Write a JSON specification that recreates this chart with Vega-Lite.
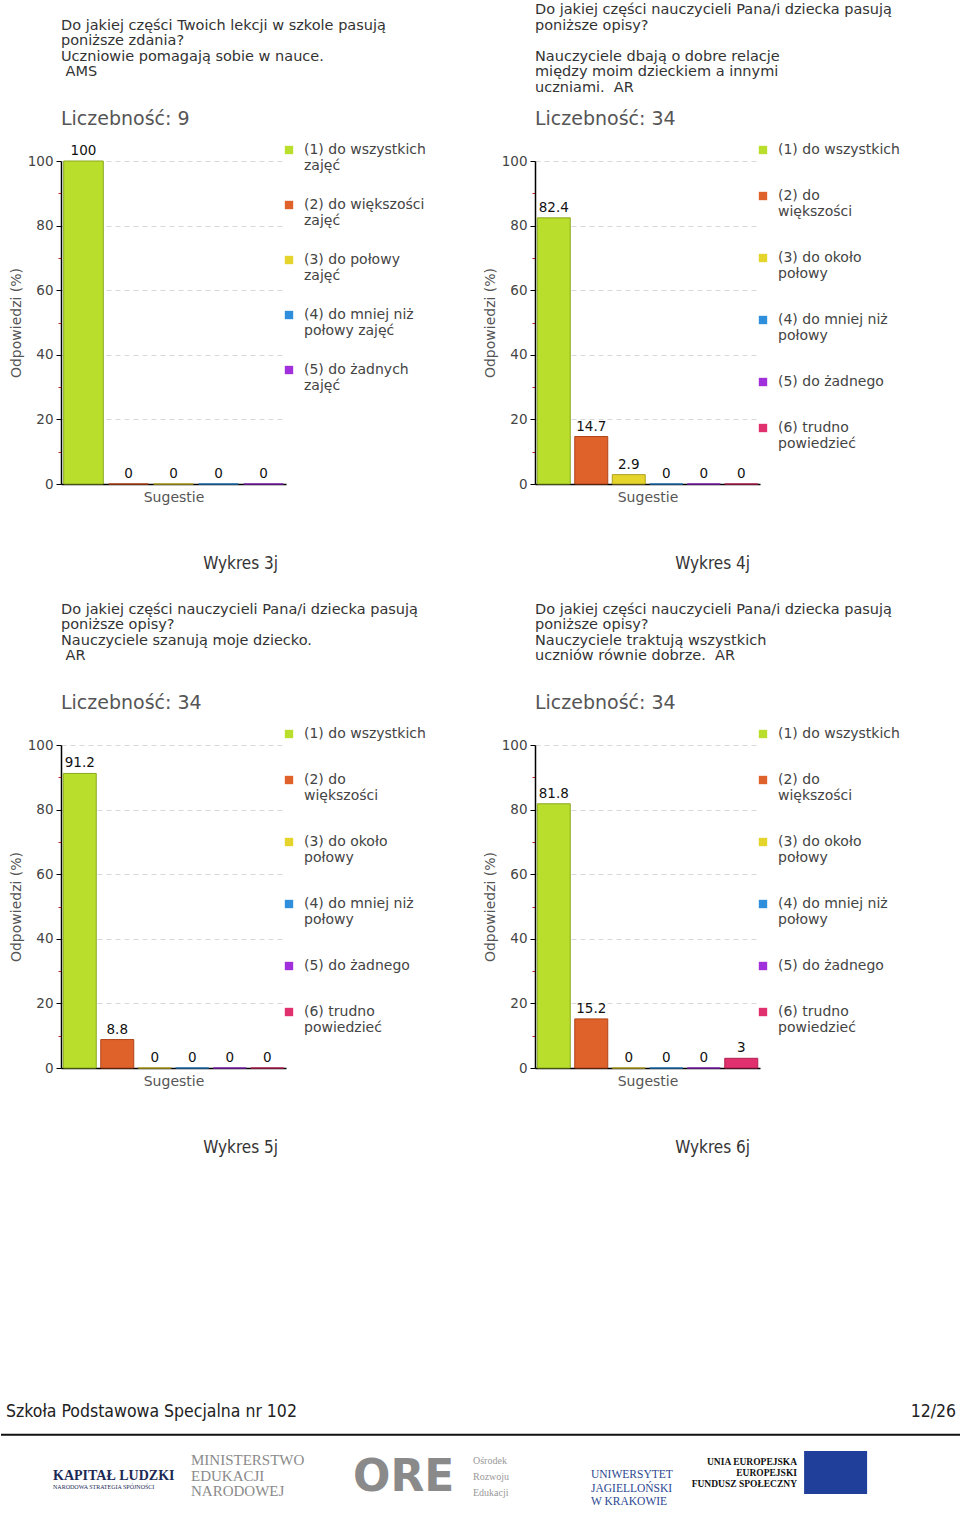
{
  "$schema": "https://vega.github.io/schema/vega-lite/v6.json",
  "padding": {"left": 0, "top": 2, "right": 0, "bottom": 0},
  "background": "white",
  "datasets": {
    "p1": [
      {"n": 1, "k": "(1) do wszystkich\nzajęć", "v": 100},
      {"n": 2, "k": "(2) do większości\nzajęć", "v": 0},
      {"n": 3, "k": "(3) do połowy\nzajęć", "v": 0},
      {"n": 4, "k": "(4) do mniej niż\npołowy zajęć", "v": 0},
      {"n": 5, "k": "(5) do żadnych\nzajęć", "v": 0}
    ],
    "p2": [
      {"n": 1, "k": "(1) do wszystkich", "v": 82.4},
      {"n": 2, "k": "(2) do\nwiększości", "v": 14.7},
      {"n": 3, "k": "(3) do około\npołowy", "v": 2.9},
      {"n": 4, "k": "(4) do mniej niż\npołowy", "v": 0},
      {"n": 5, "k": "(5) do żadnego", "v": 0},
      {"n": 6, "k": "(6) trudno\npowiedzieć", "v": 0}
    ],
    "p3": [
      {"n": 1, "k": "(1) do wszystkich", "v": 91.2},
      {"n": 2, "k": "(2) do\nwiększości", "v": 8.8},
      {"n": 3, "k": "(3) do około\npołowy", "v": 0},
      {"n": 4, "k": "(4) do mniej niż\npołowy", "v": 0},
      {"n": 5, "k": "(5) do żadnego", "v": 0},
      {"n": 6, "k": "(6) trudno\npowiedzieć", "v": 0}
    ],
    "p4": [
      {"n": 1, "k": "(1) do wszystkich", "v": 81.8},
      {"n": 2, "k": "(2) do\nwiększości", "v": 15.2},
      {"n": 3, "k": "(3) do około\npołowy", "v": 0},
      {"n": 4, "k": "(4) do mniej niż\npołowy", "v": 0},
      {"n": 5, "k": "(5) do żadnego", "v": 0},
      {"n": 6, "k": "(6) trudno\npowiedzieć", "v": 3}
    ]
  },
  "concat": [
    {
      "vconcat": [
        {
          "hconcat": [
            {
              "title": {"text": "Wykres 3j", "orient": "bottom", "anchor": "middle", "frame": "bounds", "font": "DejaVu Sans Condensed", "fontSize": 17, "color": "#333", "offset": 52, "dx": 23},
              "resolve": {"scale": {"color": "independent", "stroke": "independent"}},
              "vconcat": [
                {
                  "width": 225, "height": 323,
                  "title": {"text": ["Do jakiej części Twoich lekcji w szkole pasują", "poniższe zdania?", "Uczniowie pomagają sobie w nauce.", "\u200b\u00a0AMS", "\u200b"], "subtitle": "Liczebność: 9"},
                  "data": {"name": "p1"},
                  "encoding": {
                    "x": {"field": "n", "type": "ordinal", "scale": {"paddingInner": 0.12, "paddingOuter": 0.06}, "axis": {"title": "Sugestie", "labels": false, "ticks": false, "titlePadding": 6}},
                    "y": {"field": "v", "type": "quantitative", "scale": {"domain": [0, 100], "nice": false}, "axis": {"title": "Odpowiedzi (%)", "values": [0, 10, 20, 30, 40, 50, 60, 70, 80, 90, 100], "labelExpr": "datum.value % 20 == 0 ? datum.label : ''", "tickColor": {"condition": {"test": "datum.value % 20 != 0", "value": "#cc2222"}, "value": "#000"}, "tickSize": {"condition": {"test": "datum.value % 20 != 0", "value": 3}, "value": 5}, "gridOpacity": {"condition": {"test": "datum.value % 20 != 0 || datum.value == 0", "value": 0}, "value": 1}, "titlePadding": 4}}
                  },
                  "layer": [
                    {
                      "mark": {"type": "bar", "strokeWidth": 1},
                      "encoding": {
                        "color": {"field": "k", "type": "nominal", "scale": {"domain": ["(1) do wszystkich\nzajęć", "(2) do większości\nzajęć", "(3) do połowy\nzajęć", "(4) do mniej niż\npołowy zajęć", "(5) do żadnych\nzajęć"], "range": ["#bade2c", "#e0622b", "#e4d42c", "#2f8fdc", "#a030dc"]}, "legend": {"orient": "none", "legendX": 221, "legendY": -18, "rowPadding": 25, "labelExpr": "split(datum.label, '\\n')"}},
                        "stroke": {"field": "k", "type": "nominal", "scale": {"domain": ["(1) do wszystkich\nzajęć", "(2) do większości\nzajęć", "(3) do połowy\nzajęć", "(4) do mniej niż\npołowy zajęć", "(5) do żadnych\nzajęć"], "range": ["#8aa820", "#b04518", "#b0a020", "#2070b0", "#7a20a8"]}, "legend": null}
                      }
                    },
                    {
                      "mark": {"type": "text", "baseline": "bottom", "dy": -3, "fontSize": 13.5, "color": "#111"},
                      "encoding": {"text": {"field": "v", "type": "quantitative"}}
                    }
                  ]
                }
              ]
            },
            {
              "title": {"text": "Wykres 4j", "orient": "bottom", "anchor": "middle", "frame": "bounds", "font": "DejaVu Sans Condensed", "fontSize": 17, "color": "#333", "offset": 52, "dx": 21},
              "resolve": {"scale": {"color": "independent", "stroke": "independent"}},
              "vconcat": [
                {
                  "width": 225, "height": 323,
                  "title": {"text": ["Do jakiej części nauczycieli Pana/i dziecka pasują", "poniższe opisy?", "\u200b", "Nauczyciele dbają o dobre relacje", "między moim dzieckiem a innymi", "uczniami.\u00a0 AR"], "subtitle": "Liczebność: 34"},
                  "data": {"name": "p2"},
                  "encoding": {
                    "x": {"field": "n", "type": "ordinal", "scale": {"paddingInner": 0.12, "paddingOuter": 0.06}, "axis": {"title": "Sugestie", "labels": false, "ticks": false, "titlePadding": 6}},
                    "y": {"field": "v", "type": "quantitative", "scale": {"domain": [0, 100], "nice": false}, "axis": {"title": "Odpowiedzi (%)", "values": [0, 10, 20, 30, 40, 50, 60, 70, 80, 90, 100], "labelExpr": "datum.value % 20 == 0 ? datum.label : ''", "tickColor": {"condition": {"test": "datum.value % 20 != 0", "value": "#cc2222"}, "value": "#000"}, "tickSize": {"condition": {"test": "datum.value % 20 != 0", "value": 3}, "value": 5}, "gridOpacity": {"condition": {"test": "datum.value % 20 != 0 || datum.value == 0", "value": 0}, "value": 1}, "titlePadding": 4}}
                  },
                  "layer": [
                    {
                      "mark": {"type": "bar", "strokeWidth": 1},
                      "encoding": {
                        "color": {"field": "k", "type": "nominal", "scale": {"domain": ["(1) do wszystkich", "(2) do\nwiększości", "(3) do około\npołowy", "(4) do mniej niż\npołowy", "(5) do żadnego", "(6) trudno\npowiedzieć"], "range": ["#bade2c", "#e0622b", "#e4d42c", "#2f8fdc", "#a030dc", "#e0306e"]}, "legend": {"orient": "none", "legendX": 221, "legendY": -18, "rowPadding": 32, "labelExpr": "split(datum.label, '\\n')"}},
                        "stroke": {"field": "k", "type": "nominal", "scale": {"domain": ["(1) do wszystkich", "(2) do\nwiększości", "(3) do około\npołowy", "(4) do mniej niż\npołowy", "(5) do żadnego", "(6) trudno\npowiedzieć"], "range": ["#8aa820", "#b04518", "#b0a020", "#2070b0", "#7a20a8", "#b02050"]}, "legend": null}
                      }
                    },
                    {
                      "mark": {"type": "text", "baseline": "bottom", "dy": -3, "fontSize": 13.5, "color": "#111"},
                      "encoding": {"text": {"field": "v", "type": "quantitative"}}
                    }
                  ]
                }
              ]
            }
          ],
          "spacing": 57,
          "resolve": {"scale": {"color": "independent", "stroke": "independent"}}
        },
        {
          "hconcat": [
            {
              "title": {"text": "Wykres 5j", "orient": "bottom", "anchor": "middle", "frame": "bounds", "font": "DejaVu Sans Condensed", "fontSize": 17, "color": "#333", "offset": 52, "dx": 23},
              "resolve": {"scale": {"color": "independent", "stroke": "independent"}},
              "vconcat": [
                {
                  "width": 225, "height": 323,
                  "title": {"text": ["Do jakiej części nauczycieli Pana/i dziecka pasują", "poniższe opisy?", "Nauczyciele szanują moje dziecko.", "\u200b\u00a0AR", "\u200b"], "subtitle": "Liczebność: 34"},
                  "data": {"name": "p3"},
                  "encoding": {
                    "x": {"field": "n", "type": "ordinal", "scale": {"paddingInner": 0.12, "paddingOuter": 0.06}, "axis": {"title": "Sugestie", "labels": false, "ticks": false, "titlePadding": 6}},
                    "y": {"field": "v", "type": "quantitative", "scale": {"domain": [0, 100], "nice": false}, "axis": {"title": "Odpowiedzi (%)", "values": [0, 10, 20, 30, 40, 50, 60, 70, 80, 90, 100], "labelExpr": "datum.value % 20 == 0 ? datum.label : ''", "tickColor": {"condition": {"test": "datum.value % 20 != 0", "value": "#cc2222"}, "value": "#000"}, "tickSize": {"condition": {"test": "datum.value % 20 != 0", "value": 3}, "value": 5}, "gridOpacity": {"condition": {"test": "datum.value % 20 != 0 || datum.value == 0", "value": 0}, "value": 1}, "titlePadding": 4}}
                  },
                  "layer": [
                    {
                      "mark": {"type": "bar", "strokeWidth": 1},
                      "encoding": {
                        "color": {"field": "k", "type": "nominal", "scale": {"domain": ["(1) do wszystkich", "(2) do\nwiększości", "(3) do około\npołowy", "(4) do mniej niż\npołowy", "(5) do żadnego", "(6) trudno\npowiedzieć"], "range": ["#bade2c", "#e0622b", "#e4d42c", "#2f8fdc", "#a030dc", "#e0306e"]}, "legend": {"orient": "none", "legendX": 221, "legendY": -18, "rowPadding": 32, "labelExpr": "split(datum.label, '\\n')"}},
                        "stroke": {"field": "k", "type": "nominal", "scale": {"domain": ["(1) do wszystkich", "(2) do\nwiększości", "(3) do około\npołowy", "(4) do mniej niż\npołowy", "(5) do żadnego", "(6) trudno\npowiedzieć"], "range": ["#8aa820", "#b04518", "#b0a020", "#2070b0", "#7a20a8", "#b02050"]}, "legend": null}
                      }
                    },
                    {
                      "mark": {"type": "text", "baseline": "bottom", "dy": -3, "fontSize": 13.5, "color": "#111"},
                      "encoding": {"text": {"field": "v", "type": "quantitative"}}
                    }
                  ]
                }
              ]
            },
            {
              "title": {"text": "Wykres 6j", "orient": "bottom", "anchor": "middle", "frame": "bounds", "font": "DejaVu Sans Condensed", "fontSize": 17, "color": "#333", "offset": 52, "dx": 21},
              "resolve": {"scale": {"color": "independent", "stroke": "independent"}},
              "vconcat": [
                {
                  "width": 225, "height": 323,
                  "title": {"text": ["Do jakiej części nauczycieli Pana/i dziecka pasują", "poniższe opisy?", "Nauczyciele traktują wszystkich", "uczniów równie dobrze.\u00a0 AR", "\u200b"], "subtitle": "Liczebność: 34"},
                  "data": {"name": "p4"},
                  "encoding": {
                    "x": {"field": "n", "type": "ordinal", "scale": {"paddingInner": 0.12, "paddingOuter": 0.06}, "axis": {"title": "Sugestie", "labels": false, "ticks": false, "titlePadding": 6}},
                    "y": {"field": "v", "type": "quantitative", "scale": {"domain": [0, 100], "nice": false}, "axis": {"title": "Odpowiedzi (%)", "values": [0, 10, 20, 30, 40, 50, 60, 70, 80, 90, 100], "labelExpr": "datum.value % 20 == 0 ? datum.label : ''", "tickColor": {"condition": {"test": "datum.value % 20 != 0", "value": "#cc2222"}, "value": "#000"}, "tickSize": {"condition": {"test": "datum.value % 20 != 0", "value": 3}, "value": 5}, "gridOpacity": {"condition": {"test": "datum.value % 20 != 0 || datum.value == 0", "value": 0}, "value": 1}, "titlePadding": 4}}
                  },
                  "layer": [
                    {
                      "mark": {"type": "bar", "strokeWidth": 1},
                      "encoding": {
                        "color": {"field": "k", "type": "nominal", "scale": {"domain": ["(1) do wszystkich", "(2) do\nwiększości", "(3) do około\npołowy", "(4) do mniej niż\npołowy", "(5) do żadnego", "(6) trudno\npowiedzieć"], "range": ["#bade2c", "#e0622b", "#e4d42c", "#2f8fdc", "#a030dc", "#e0306e"]}, "legend": {"orient": "none", "legendX": 221, "legendY": -18, "rowPadding": 32, "labelExpr": "split(datum.label, '\\n')"}},
                        "stroke": {"field": "k", "type": "nominal", "scale": {"domain": ["(1) do wszystkich", "(2) do\nwiększości", "(3) do około\npołowy", "(4) do mniej niż\npołowy", "(5) do żadnego", "(6) trudno\npowiedzieć"], "range": ["#8aa820", "#b04518", "#b0a020", "#2070b0", "#7a20a8", "#b02050"]}, "legend": null}
                      }
                    },
                    {
                      "mark": {"type": "text", "baseline": "bottom", "dy": -3, "fontSize": 13.5, "color": "#111"},
                      "encoding": {"text": {"field": "v", "type": "quantitative"}}
                    }
                  ]
                }
              ]
            }
          ],
          "spacing": 57,
          "resolve": {"scale": {"color": "independent", "stroke": "independent"}}
        }
      ],
      "spacing": 29,
      "resolve": {"scale": {"color": "independent", "stroke": "independent"}}
    },
    {
      "width": 900,
      "height": 68,
      "resolve": {"scale": {"x": "independent"}},
      "encoding": {
        "y": {"field": "row", "type": "nominal", "scale": {"type": "point", "domain": ["head", "rule", "gap", "logo"], "padding": 0}, "axis": null}
      },
      "layer": [
        {
          "data": {"values": [{"t": "Szkoła Podstawowa Specjalna nr 102", "slot": "L", "row": "head"}]},
          "mark": {"type": "text", "align": "left", "baseline": "middle", "font": "DejaVu Sans Condensed", "fontSize": 17.5, "color": "#222", "dx": 5},
          "encoding": {
            "x": {"field": "slot", "type": "nominal", "bandPosition": 0, "scale": {"type": "band", "domain": ["L"], "range": [-60, 900], "paddingInner": 0, "paddingOuter": 0}, "axis": null},
            "text": {"field": "t"}
          }
        },
        {
          "data": {"values": [{"t": "12/26", "slot": "L", "row": "head"}]},
          "mark": {"type": "text", "align": "right", "baseline": "middle", "font": "DejaVu Sans Condensed", "fontSize": 17.5, "color": "#222", "dx": -5},
          "encoding": {
            "x": {"field": "slot", "type": "nominal", "bandPosition": 1, "scale": {"type": "band", "domain": ["L"], "range": [-60, 900], "paddingInner": 0, "paddingOuter": 0}, "axis": null},
            "text": {"field": "t"}
          }
        },
        {
          "data": {"values": [{"slot": "L", "row": "rule"}]},
          "mark": {"type": "rule", "color": "#111", "strokeWidth": 2},
          "encoding": {
            "x": {"field": "slot", "type": "nominal", "bandPosition": 0, "scale": {"type": "band", "domain": ["L"], "range": [-60, 900], "paddingInner": 0, "paddingOuter": 0}, "axis": null},
            "x2": {"value": 900}
          }
        },
        {
          "data": {"values": [{"t": "KAPITAŁ LUDZKI", "slot": "s1", "row": "logo"}]},
          "mark": {"type": "text", "align": "left", "baseline": "middle", "font": "Liberation Sans Narrow", "fontWeight": "bold", "fontSize": 14, "color": "#1b2a55", "dx": 44, "dy": -4},
          "encoding": {
            "x": {"field": "slot", "type": "nominal", "bandPosition": 0, "scale": {"type": "band", "domain": ["s1", "s2", "s3", "s4", "s5"], "range": [-52, 900], "paddingInner": 0, "paddingOuter": 0.22, "align": 0}, "axis": null},
            "text": {"field": "t"}
          }
        },
        {
          "data": {"values": [{"t": "NARODOWA STRATEGIA SPÓJNOŚCI", "slot": "s1", "row": "logo"}]},
          "mark": {"type": "text", "align": "left", "baseline": "middle", "font": "Liberation Sans Narrow", "fontSize": 6, "color": "#1b2a55", "dx": 44, "dy": 7},
          "encoding": {
            "x": {"field": "slot", "type": "nominal", "bandPosition": 0, "scale": {"type": "band", "domain": ["s1", "s2", "s3", "s4", "s5"], "range": [-52, 900], "paddingInner": 0, "paddingOuter": 0.22, "align": 0}, "axis": null},
            "text": {"field": "t"}
          }
        },
        {
          "data": {"values": [{"t": "MINISTERSTWO\nEDUKACJI\nNARODOWEJ", "slot": "s2", "row": "logo"}]},
          "mark": {"type": "text", "align": "left", "baseline": "middle", "lineBreak": "\n", "lineHeight": 15.5, "font": "Liberation Serif", "fontSize": 15, "color": "#8a8a8a", "dx": 7, "dy": -20},
          "encoding": {
            "x": {"field": "slot", "type": "nominal", "bandPosition": 0, "scale": {"type": "band", "domain": ["s1", "s2", "s3", "s4", "s5"], "range": [-52, 900], "paddingInner": 0, "paddingOuter": 0.22, "align": 0}, "axis": null},
            "text": {"field": "t"}
          }
        },
        {
          "data": {"values": [{"t": "ORE", "slot": "s3", "row": "logo"}]},
          "mark": {"type": "text", "align": "left", "baseline": "middle", "font": "DejaVu Sans", "fontWeight": "bold", "fontSize": 44, "color": "#8a8a8a", "dx": -6, "dy": -2},
          "encoding": {
            "x": {"field": "slot", "type": "nominal", "bandPosition": 0, "scale": {"type": "band", "domain": ["s1", "s2", "s3", "s4", "s5"], "range": [-52, 900], "paddingInner": 0, "paddingOuter": 0.22, "align": 0}, "axis": null},
            "text": {"field": "t"}
          }
        },
        {
          "data": {"values": [{"t": "Ośrodek\nRozwoju\nEdukacji", "slot": "s3", "row": "logo"}]},
          "mark": {"type": "text", "align": "left", "baseline": "middle", "lineBreak": "\n", "lineHeight": 16, "font": "Liberation Serif", "fontSize": 10, "color": "#999", "dx": 114, "dy": -19},
          "encoding": {
            "x": {"field": "slot", "type": "nominal", "bandPosition": 0, "scale": {"type": "band", "domain": ["s1", "s2", "s3", "s4", "s5"], "range": [-52, 900], "paddingInner": 0, "paddingOuter": 0.22, "align": 0}, "axis": null},
            "text": {"field": "t"}
          }
        },
        {
          "data": {"values": [{"t": "UNIWERSYTET\nJAGIELLOŃSKI\nW KRAKOWIE", "slot": "s4", "row": "logo"}]},
          "mark": {"type": "text", "align": "left", "baseline": "middle", "lineBreak": "\n", "lineHeight": 13.5, "font": "Liberation Serif", "fontSize": 11.5, "color": "#2a4690", "dx": 57, "dy": -5},
          "encoding": {
            "x": {"field": "slot", "type": "nominal", "bandPosition": 0, "scale": {"type": "band", "domain": ["s1", "s2", "s3", "s4", "s5"], "range": [-52, 900], "paddingInner": 0, "paddingOuter": 0.22, "align": 0}, "axis": null},
            "text": {"field": "t"}
          }
        },
        {
          "data": {"values": [{"t": "UNIA EUROPEJSKA\nEUROPEJSKI\nFUNDUSZ SPOŁECZNY", "slot": "s5", "row": "logo"}]},
          "mark": {"type": "text", "align": "right", "baseline": "middle", "lineBreak": "\n", "lineHeight": 11, "font": "Liberation Sans Narrow", "fontWeight": "bold", "fontSize": 9.5, "color": "#111", "dx": 88, "dy": -18},
          "encoding": {
            "x": {"field": "slot", "type": "nominal", "bandPosition": 0, "scale": {"type": "band", "domain": ["s1", "s2", "s3", "s4", "s5"], "range": [-52, 900], "paddingInner": 0, "paddingOuter": 0.22, "align": 0}, "axis": null},
            "text": {"field": "t"}
          }
        },
        {
          "data": {"values": [{"slot": "s5", "row": "logo"}]},
          "mark": {"type": "point", "shape": "M3.17,-0.97L5.27,-0.97L5.27,0.47L3.17,0.47Z", "size": 3600, "filled": true, "color": "#1f3f9a", "opacity": 1, "strokeWidth": 0},
          "encoding": {
            "x": {"field": "slot", "type": "nominal", "bandPosition": 0, "scale": {"type": "band", "domain": ["s1", "s2", "s3", "s4", "s5"], "range": [-52, 900], "paddingInner": 0, "paddingOuter": 0.22, "align": 0}, "axis": null}
          }
        }
      ]
    }
  ],
  "columns": 1,
  "spacing": 247,
  "resolve": {"scale": {"color": "independent", "stroke": "independent"}},
  "config": {
    "view": {"stroke": null},
    "font": "DejaVu Sans",
    "text": {"font": "DejaVu Sans"},
    "axis": {"labelFont": "DejaVu Sans", "labelFontSize": 13.5, "labelColor": "#444", "titleFont": "DejaVu Sans", "titleFontSize": 14, "titleFontWeight": "normal", "titleColor": "#555", "domainColor": "#000", "domainWidth": 1.5, "tickColor": "#000", "gridColor": "#d8d8d8", "gridDash": [5, 4], "labelPadding": 3},
    "title": {"font": "DejaVu Sans", "fontSize": 14.5, "fontWeight": "normal", "color": "#333", "anchor": "start", "frame": "group", "lineHeight": 15.5, "subtitleFont": "DejaVu Sans", "subtitleFontSize": 19, "subtitleColor": "#555", "subtitlePadding": 15, "offset": 13},
    "legend": {"title": null, "symbolType": "square", "symbolSize": 70, "symbolStrokeWidth": 0, "labelFont": "DejaVu Sans", "labelFontSize": 14, "labelColor": "#444", "labelOffset": 8, "labelLimit": 300}
  }
}
